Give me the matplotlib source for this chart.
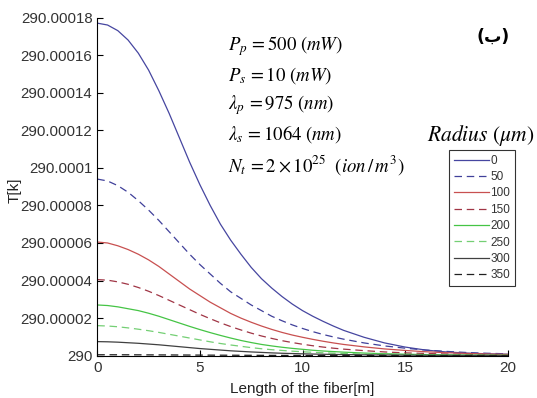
import numpy as np
import matplotlib
matplotlib.use("Agg")
import matplotlib.pyplot as plt
from matplotlib.ticker import FuncFormatter, FixedLocator

# ---------------- data ----------------
length_m = [0, 0.5, 1, 1.5, 2, 2.5, 3, 3.5, 4, 4.5, 5, 5.5, 6, 6.5, 7, 7.5, 8, 8.5,
            9, 9.5, 10, 10.5, 11, 11.5, 12, 13, 14, 15, 16, 17, 18, 19, 20]
# temperature rise above 290 K, in micro-kelvin (1e-6 K)
r0 = [177, 176, 173, 168, 161, 152, 141, 129, 116, 103, 91, 80, 70, 61.5, 54, 47, 41, 36,
      31.5, 27.5, 24, 21, 18.3, 15.8, 13.5, 9.8, 6.8, 4.6, 3.0, 2.0, 1.4, 1.0, 0.8]
r50 = [94, 93, 90.5, 87, 82.5, 77.5, 72, 66, 60, 54, 48.5, 43.5, 38.5, 34, 30.5, 27, 24, 21,
       18.6, 16.4, 14.5, 12.8, 11.3, 10, 8.8, 6.8, 5.2, 4.0, 3.0, 2.3, 1.7, 1.3, 1.0]
r100 = [60.5, 60, 58.5, 56.5, 54, 51, 47.5, 43.5, 39.5, 35.5, 32, 28.5, 25.5, 22.5, 20, 17.8, 15.8, 14,
        12.4, 11, 9.8, 8.7, 7.7, 6.8, 6.0, 4.7, 3.6, 2.8, 2.1, 1.6, 1.2, 0.9, 0.7]
r150 = [40.5, 40.2, 39.3, 38, 36.3, 34.3, 32, 29.5, 27, 24.5, 22, 19.7, 17.5, 15.5, 13.7, 12, 10.5, 9.2,
        8.0, 7.0, 6.1, 5.3, 4.6, 4.0, 3.5, 2.7, 2.0, 1.5, 1.2, 0.9, 0.7, 0.5, 0.4]
r200 = [27, 26.7, 26, 25, 24, 22.6, 21, 19.2, 17.4, 15.6, 13.9, 12.3, 10.8, 9.4, 8.1, 7, 6, 5.2,
        4.5, 3.9, 3.4, 2.9, 2.5, 2.2, 1.9, 1.4, 1.05, 0.8, 0.6, 0.45, 0.35, 0.27, 0.2]
r250 = [16, 15.8, 15.4, 14.8, 14.1, 13.3, 12.4, 11.4, 10.4, 9.4, 8.4, 7.4, 6.5, 5.7, 5.0, 4.3, 3.7, 3.2,
        2.8, 2.4, 2.1, 1.8, 1.55, 1.35, 1.2, 0.9, 0.7, 0.5, 0.4, 0.3, 0.25, 0.2, 0.15]
r300 = [7.5, 7.4, 7.2, 6.9, 6.6, 6.2, 5.8, 5.3, 4.8, 4.3, 3.8, 3.4, 3.0, 2.6, 2.3, 2.0, 1.75, 1.5,
        1.3, 1.15, 1.0, 0.88, 0.77, 0.68, 0.6, 0.47, 0.37, 0.29, 0.23, 0.18, 0.14, 0.11, 0.09]
r350 = [0.5, 0.5, 0.49, 0.48, 0.46, 0.44, 0.42, 0.4, 0.37, 0.35, 0.32, 0.3, 0.27, 0.25, 0.23, 0.21, 0.19, 0.17,
        0.15, 0.14, 0.13, 0.12, 0.11, 0.1, 0.09, 0.08, 0.07, 0.06, 0.05, 0.05, 0.04, 0.04, 0.03]

radius_labels = ["0", "50", "100", "150", "200", "250", "300", "350"]
series = [r0, r50, r100, r150, r200, r250, r300, r350]
base_temp = 290
y_ticks = [0, 20, 40, 60, 80, 100, 120, 140, 160, 180]
x_ticks = [0, 5, 10, 15, 20]

# ---------------- styles ----------------
colors = ["#4646a0", "#40409a", "#c85050", "#a03545", "#45c445", "#74cf74", "#404040", "#202020"]
dashed = [False, True, False, True, False, True, False, True]

W, H = 537, 398
fig = plt.figure(figsize=(W / 100, H / 100), dpi=100)
ax = fig.add_axes([97.3 / W, 1 - 355.7 / H, 410.4 / W, 338.2 / H])

handles = []
for vals, lab, c, d in zip(series, radius_labels, colors, dashed):
    ln, = ax.plot(length_m, vals, color=c, lw=0.9, label=lab)
    if d:
        ln.set_dashes((6, 3.8))
    handles.append(ln)

ax.set_xlim(0, 20)
ax.set_ylim(0, 180)
ax.xaxis.set_major_locator(FixedLocator(x_ticks))
ax.yaxis.set_major_locator(FixedLocator(y_ticks))

def yfmt(v, pos):
    s = "{:.5f}".format(base_temp + v * 1e-6)
    s = s.rstrip("0").rstrip(".")
    return s

ax.yaxis.set_major_formatter(FuncFormatter(yfmt))
ax.spines["top"].set_visible(False)
ax.spines["right"].set_visible(False)
for s in ["left", "bottom"]:
    ax.spines[s].set_linewidth(0.8)
ax.tick_params(direction="in", length=4, width=0.8, colors="black", pad=3.5)
for lbl in ax.get_yticklabels():
    lbl.set_fontfamily("Liberation Sans")
    lbl.set_fontsize(10.8)
    lbl.set_color("#333333")
for lbl in ax.get_xticklabels():
    lbl.set_fontfamily("Liberation Sans")
    lbl.set_fontsize(11)
    lbl.set_color("#333333")

ax.set_xlabel("Length of the fiber[m]", fontfamily="Liberation Sans", fontsize=11, color="#222222", labelpad=5)
ax.set_ylabel("T[k]", fontfamily="Liberation Sans", fontsize=11, color="#222222")
ax.yaxis.set_label_coords((22 - 97.3) / 410.4, 0.49)

# parameter annotations
plt.rcParams["mathtext.fontset"] = "stix"
params = [r"$P_p\,=500\ (mW)$",
          r"$P_s\,=10\ (mW)$",
          r"$\lambda_p\,=975\ (nm)$",
          r"$\lambda_s\,=1064\ (nm)$",
          r"$N_t\,=2\times10^{25}\ \ (ion\,/\,m^3)$"]
ys = [46, 75.5, 105, 134.5, 165]
for t, yp in zip(params, ys):
    fig.text(228 / W, 1 - yp / H, t, fontsize=13.5, va="center", ha="left")

fig.text(493 / W, 1 - 37 / H, "(\u0628)", fontsize=12.5, fontweight="bold",
         family=["DejaVu Sans"], ha="center", va="center")

# legend title (outside the box)
fig.text(481 / W, 1 - 136 / H, r"$Radius\ (\mu m)$", fontsize=15.5, ha="center", va="center")

leg = fig.legend(handles, radius_labels, loc="upper left",
                 bbox_to_anchor=(449 / W, 1 - 150 / H),
                 frameon=True, fancybox=False, edgecolor="black",
                 prop={"family": "Liberation Sans", "size": 8.5},
                 handlelength=3.0, handletextpad=0.1, labelspacing=0.37,
                 borderpad=0.4, borderaxespad=0.0)
leg.get_frame().set_linewidth(0.8)
for t in leg.get_texts():
    t.set_color("#333333")

fig.savefig("out.png", dpi=100)
